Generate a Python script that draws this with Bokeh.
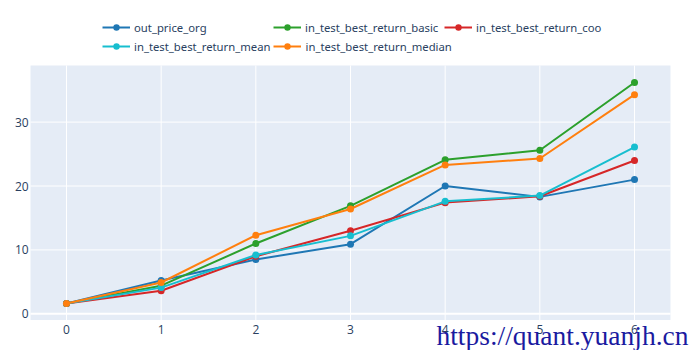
from bokeh.plotting import figure
from bokeh.models import Legend, LegendItem, Range1d, BoxAnnotation, Label
from bokeh.core.properties import value
from bokeh.embed import file_html
from bokeh.resources import INLINE

x = [0, 1, 2, 3, 4, 5, 6]
out_price_org = [1.6, 5.2, 8.5, 10.9, 20.0, 18.3, 21.0]
in_test_best_return_basic = [1.6, 4.4, 11.0, 16.9, 24.1, 25.6, 36.2]
in_test_best_return_coo = [1.6, 3.6, 9.0, 13.0, 17.4, 18.4, 24.0]
in_test_best_return_mean = [1.6, 4.1, 9.2, 12.2, 17.6, 18.5, 26.1]
in_test_best_return_median = [1.6, 4.9, 12.3, 16.4, 23.3, 24.3, 34.3]

x_ticks = [0, 1, 2, 3, 4, 5, 6]
x_tick_labels = ["0", "1", "2", "3", "4", "5", "6"]
y_ticks = [0, 10, 20, 30]
y_tick_labels = ["0", "10", "20", "30"]

series = [
    ("out_price_org", out_price_org, "#1f77b4"),
    ("in_test_best_return_basic", in_test_best_return_basic, "#2ca02c"),
    ("in_test_best_return_coo", in_test_best_return_coo, "#d62728"),
    ("in_test_best_return_mean", in_test_best_return_mean, "#17becf"),
    ("in_test_best_return_median", in_test_best_return_median, "#ff7f0e"),
]

# plotting-area extent in data units (the canvas is the whole frame)
X0, X1 = -0.38, 6.38
Y0, Y1 = -0.97, 38.86
FONT = "Open Sans"
LEGEND_FONT = "Noto Sans"
TICK_COLOR = "#2a3f5f"

p = figure(width=700, height=350, output_backend="svg", toolbar_location=None,
           x_range=Range1d(-0.697, 6.697), y_range=Range1d(-5.74, 49.03),
           x_axis_type=None, y_axis_type=None, min_border=0)
p.background_fill_color = "white"
p.border_fill_color = "white"
p.outline_line_color = None
p.grid.visible = False

p.add_layout(BoxAnnotation(left=X0, right=X1, bottom=Y0, top=Y1,
                           fill_color="#E5ECF6", fill_alpha=1.0,
                           line_color=None, level="underlay"))

# grid lines at the ticks
p.segment(x0=x_ticks, y0=[Y0] * len(x_ticks), x1=x_ticks, y1=[Y1] * len(x_ticks),
          line_color="white", line_width=1)
p.segment(x0=[X0] * len(y_ticks), y0=y_ticks, x1=[X1] * len(y_ticks), y1=y_ticks,
          line_color="white", line_width=[2 if t == 0 else 1 for t in y_ticks])

# tick labels
p.text(x=x_ticks, y=[-2.46] * len(x_ticks), text=x_tick_labels,
       text_align="center", text_baseline="middle", text_font=value(FONT),
       text_font_size="12px", text_color=TICK_COLOR)
p.text(x=[-0.40] * len(y_ticks), y=y_ticks, text=y_tick_labels,
       text_align="right", text_baseline="middle", text_font=value(FONT),
       text_font_size="12px", text_color=TICK_COLOR)

items = []
for name, ys, color in series:
    l = p.line(x, ys, line_color=color, line_width=2)
    s = p.scatter(x, ys, size=7, fill_color=color, line_color=None)
    items.append(LegendItem(label=name, renderers=[l, s]))

legend_style = dict(orientation="horizontal", padding=0, margin=0, spacing=3,
                    glyph_width=28, glyph_height=16, label_height=16,
                    label_width=136, label_standoff=4,
                    label_text_font=LEGEND_FONT, label_text_font_size="11.3px",
                    label_text_color=TICK_COLOR, background_fill_alpha=0,
                    border_line_color=None)
p.add_layout(Legend(items=items[:3], location=(102, 315), **legend_style), "center")
p.add_layout(Legend(items=items[3:], location=(102, 296), **legend_style), "center")

wm = Label(x=3.908, y=-3.40, text="https://quant.yuanjh.cn",
           text_font="Liberation Serif", text_font_size="27.5px",
           text_color="#1a1aa0", text_baseline="alphabetic")
p.add_layout(wm)

open("out.html", "w").write(file_html(p, INLINE))
